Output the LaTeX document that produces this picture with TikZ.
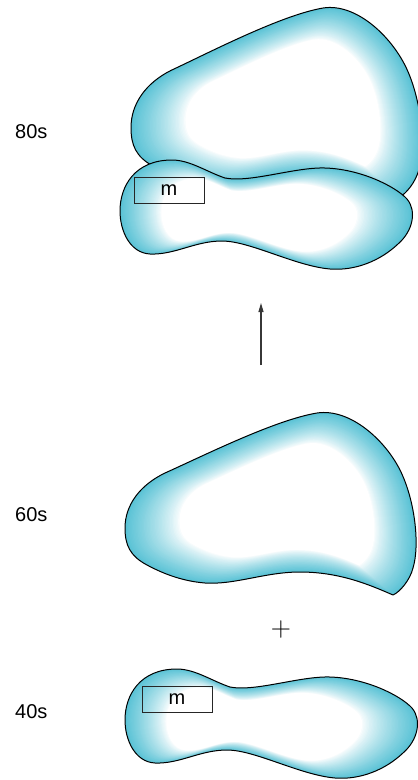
\documentclass[tikz,border=0pt]{standalone}
\usepackage{fontspec}
\newfontfamily\labelfont{Liberation Sans}
\usetikzlibrary{arrows.meta}

\definecolor{glowedge}{RGB}{88,194,213}
\definecolor{arrowgray}{RGB}{55,55,55}

% outline of the large, wedge-shaped region
\def\pathwedge{(393,595) .. controls (370,585) and (340,572) .. (300,572)
  .. controls (265,572) and (235,585) .. (205,583)
  .. controls (180,581) and (160,572) .. (147,565)
  .. controls (130,556) and (125,545) .. (125,528)
  .. controls (125,505) and (140,485) .. (165,473)
  .. controls (205,455) and (275,420) .. (317,413)
  .. controls (350,408) and (385,440) .. (400,470)
  .. controls (415,500) and (420,545) .. (413,568)
  .. controls (410,580) and (400,592) .. (393,595) -- cycle}

% outline of the peanut-shaped region
\def\pathpeanut{(177,669) .. controls (195,669) and (212,681) .. (230,687)
  .. controls (255,692) and (300,676) .. (330,677)
  .. controls (365,678) and (400,695) .. (412,708)
  .. controls (422,720) and (418,740) .. (403,753)
  .. controls (385,770) and (360,780) .. (335,778)
  .. controls (300,775) and (255,750) .. (227,750)
  .. controls (200,750) and (180,764) .. (155,763)
  .. controls (135,762) and (125,740) .. (125,720)
  .. controls (125,695) and (140,669) .. (177,669) -- cycle}

% a region with a cyan rim fading smoothly to white towards its centre
% #1 outline, #2,#3 centre, #4 depth of the rim (fraction), #5 placement
\newcommand\glowblob[5]{%
  \begin{scope}[#5]
    \begin{scope}
      \clip #1;
      \fill[glowedge] #1;
      \foreach \k in {1,...,40} {
        \pgfmathsetmacro\sc{1-#4*\k/40}
        \pgfmathtruncatemacro\mix{100*(1-\k/40)^0.8}
        \fill[glowedge!\mix!white, shift={(#2,#3)}, scale=\sc, shift={(-#2,-#3)}] #1;
      }
    \end{scope}
    \draw[blobline] #1;
  \end{scope}}

\tikzset{
  blobline/.style={draw=black, line width=1pt, line join=round},
  era/.style={font=\labelfont\fontsize{20}{24}\selectfont, anchor=base west, inner sep=0pt},
  mbox/.style={draw=black!85, line width=0.9pt, minimum width=70pt, minimum height=26pt,
    inner sep=0pt, font=\labelfont\fontsize{20}{24}\selectfont},
  growth/.style={draw=arrowgray, line width=1.1pt, -{Triangle[length=9pt,width=5pt]}},
}

\begin{document}
\begin{tikzpicture}[x=1pt, y=-1pt]
  \useasboundingbox (0,0) rectangle (418,780);

  % 80s: wedge and peanut fused (the wedge a little deeper)
  \glowblob{\pathwedge}{290}{505}{0.33}{shift={(6,-405)}, shift={(0,413)}, yscale=1.04, shift={(0,-413)}}
  \glowblob{\pathpeanut}{250}{725}{0.33}{shift={(-5,-509)}}
  \node[mbox] (m80) at (169,190) {m};

  % 60s: wedge alone
  \glowblob{\pathwedge}{290}{505}{0.33}{}

  % 40s: peanut alone
  \glowblob{\pathpeanut}{250}{725}{0.33}{}
  \node[mbox] (m40) at (177,699) {m};

  % era labels
  \node[era] (l80) at (15,138) {80s};
  \node[era] (l60) at (15,521) {60s};
  \node[era] (l40) at (15,718) {40s};

  % combination sign
  \node[inner sep=0pt, font=\fontsize{28}{30}\selectfont] (plus) at (281,630) {+};

  % growth arrow
  \coordinate (growfrom) at (261,365);
  \coordinate (growto) at (261,303);
  \draw[growth] (growfrom) -- (growto);
\end{tikzpicture}
\end{document}
